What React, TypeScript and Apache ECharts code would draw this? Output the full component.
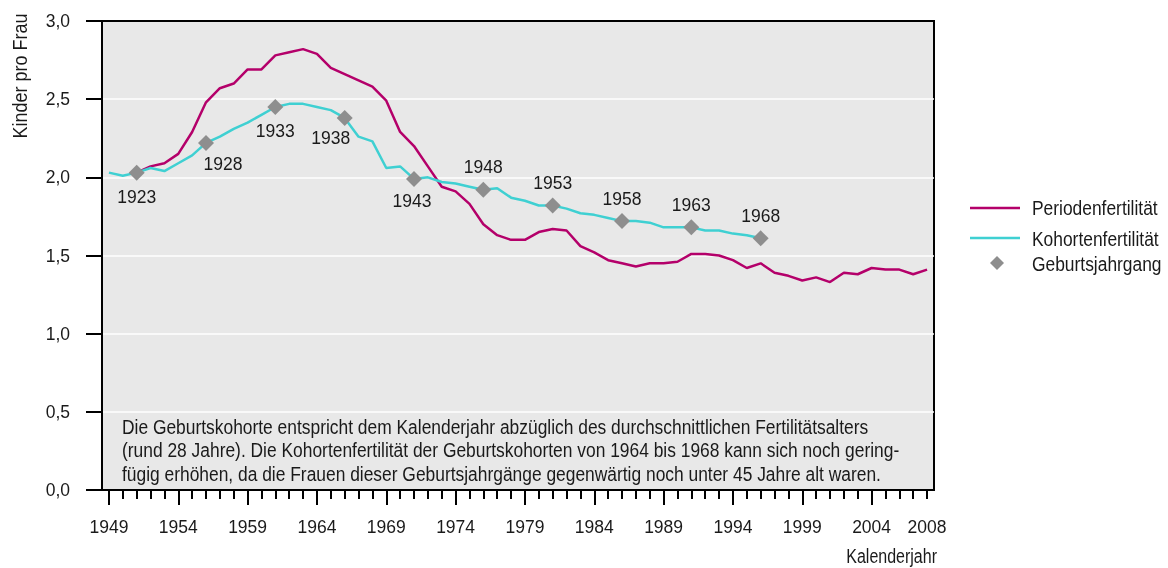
import React, { useEffect, useRef } from "react";
import * as echarts from "echarts";

const years: string[] = Array.from({ length: 60 }, (_, i) => String(1949 + i));

// Periodenfertilität 1949..2008 (null where not shown)
const periodValues: (number | null)[] = [
  null, null, 2.03, 2.07, 2.09, 2.15, 2.29, 2.48, 2.57, 2.60,
  2.69, 2.69, 2.78, 2.80, 2.82, 2.79, 2.70, 2.66, 2.62, 2.58,
  2.49, 2.29, 2.20, 2.07, 1.94, 1.91, 1.83, 1.70, 1.63, 1.60,
  1.60, 1.65, 1.67, 1.66, 1.56, 1.52, 1.47, 1.45, 1.43, 1.45,
  1.45, 1.46, 1.51, 1.51, 1.50, 1.47, 1.42, 1.45, 1.39, 1.37,
  1.34, 1.36, 1.33, 1.39, 1.38, 1.42, 1.41, 1.41, 1.38, 1.41,
];

// Kohortenfertilität plotted at calendar year (cohort + 28), 1949..1996
const cohortValues: (number | null)[] = [
  2.03, 2.01, 2.03, 2.06, 2.04, 2.09, 2.14, 2.22, 2.26, 2.31,
  2.35, 2.40, 2.45, 2.47, 2.47, 2.45, 2.43, 2.38, 2.26, 2.23,
  2.06, 2.07, 1.99, 2.00, 1.97, 1.96, 1.94, 1.92, 1.93, 1.87,
  1.85, 1.82, 1.82, 1.80, 1.77, 1.76, 1.74, 1.72, 1.72, 1.71,
  1.68, 1.68, 1.68, 1.66, 1.66, 1.64, 1.63, 1.61,
];

// Geburtsjahrgang markers
const markerCohorts: string[] = ["1923", "1928", "1933", "1938", "1943", "1948", "1953", "1958", "1963", "1968"];
const markerYears: string[] = ["1951", "1956", "1961", "1966", "1971", "1976", "1981", "1986", "1991", "1996"];
const markerValues: number[] = [2.03, 2.22, 2.45, 2.38, 1.99, 1.92, 1.82, 1.72, 1.68, 1.61];

const yTicks: number[] = [0, 0.5, 1, 1.5, 2, 2.5, 3];

const legendNames: string[] = ["Periodenfertilität", "Kohortenfertilität", "Geburtsjahrgang"];

const FONT = "'Liberation Sans', Arial, sans-serif";
const TEXT = "#1a1a1a";
const MAGENTA = "#b4006a";
const CYAN = "#3fd0d2";
const GRAY = "#8e8e8e";

const labelOffsets: number[][] = [
  [0, 24], [17, 21], [0, 24], [-14, 20], [-2, 22],
  [0, -23], [0, -22], [0, -22], [0, -22], [0, -22],
];

const noteLines = [
  "Die Geburtskohorte entspricht dem Kalenderjahr abzüglich des durchschnittlichen Fertilitätsalters",
  "(rund 28 Jahre). Die Kohortenfertilität der Geburtskohorten von 1964 bis 1968 kann sich noch gering-",
  "fügig erhöhen, da die Frauen dieser Geburtsjahrgänge gegenwärtig noch unter 45 Jahre alt waren.",
];

const narrowText = (text: string, x: number, y: number, align: string, scale: number, extra: any = {}) => ({
  type: "text", x, y, scaleX: scale, ...extra,
  style: { text, font: `20px ${FONT}`, fill: TEXT, align, verticalAlign: "middle" },
});

export default function App() {
  const ref = useRef<HTMLDivElement>(null);
  useEffect(() => {
    if (!ref.current) return;
    const chart = echarts.init(ref.current, null, { renderer: "svg" });
    const labelInterval = (i: number, v: string) => i % 5 === 0 || v === "2008";
    const majorTick = (i: number) => i % 5 === 0;
    chart.setOption({
      animation: false,
      textStyle: { fontFamily: FONT, color: TEXT },
      grid: {
        left: 102, right: 234, top: 21, bottom: 78,
        show: true, backgroundColor: "#e8e8e8", borderColor: "#000", borderWidth: 2,
      },
      xAxis: [
        {
          type: "category", data: years, boundaryGap: true, position: "bottom",
          axisLine: { lineStyle: { color: "#000", width: 2 } },
          axisTick: { show: true, interval: 0, length: 9, alignWithLabel: true, lineStyle: { color: "#000", width: 2 } },
          axisLabel: { interval: labelInterval, margin: 28, fontSize: 17.5, color: TEXT, fontFamily: FONT },
          splitLine: { show: false },
        },
        {
          type: "category", data: years, boundaryGap: true, position: "bottom",
          axisLine: { show: false },
          axisTick: { show: true, interval: majorTick, length: 15, alignWithLabel: true, lineStyle: { color: "#000", width: 2 } },
          axisLabel: { show: false },
          splitLine: { show: false },
        },
      ],
      yAxis: {
        type: "value", min: yTicks[0], max: yTicks[yTicks.length - 1], interval: 0.5,
        axisLine: { show: true, lineStyle: { color: "#000", width: 2 } },
        axisTick: { show: true, length: 16, lineStyle: { color: "#000", width: 2 } },
        axisLabel: {
          margin: 32, fontSize: 17.5, color: TEXT, fontFamily: FONT,
          formatter: (v: number) => v.toFixed(1).replace(".", ","),
        },
        splitLine: { show: true, showMinLine: false, showMaxLine: false, lineStyle: { color: "#ffffff", width: 1.5 } },
      },
      series: [
        {
          name: legendNames[0], type: "line", data: periodValues, symbol: "none",
          lineStyle: { color: MAGENTA, width: 2.5 }, itemStyle: { color: MAGENTA }, z: 2,
        },
        {
          name: legendNames[1], type: "line", data: cohortValues, symbol: "none",
          lineStyle: { color: CYAN, width: 2.5 }, itemStyle: { color: CYAN }, z: 3,
        },
        {
          name: legendNames[2], type: "scatter", symbol: "diamond", symbolSize: 16,
          itemStyle: { color: GRAY, opacity: 1 }, z: 4,
          data: markerYears.map((y, i) => ({
            value: [y, markerValues[i]],
            label: {
              show: true, formatter: markerCohorts[i], position: "inside",
              offset: labelOffsets[i], align: "center", verticalAlign: "middle",
              fontSize: 17.5, color: TEXT, fontFamily: FONT, textBorderWidth: 0,
            },
          })),
        },
      ],
      graphic: [
        narrowText("Kinder pro Frau", 20, 76, "center", 0.9, { rotation: Math.PI / 2 }),
        narrowText("Kalenderjahr", 937, 556, "right", 0.8),
        ...noteLines.map((t, i) => narrowText(t, 122, 427 + i * 23.5, "left", 0.87)),
        // legend
        { type: "line", shape: { x1: 970, y1: 208, x2: 1020, y2: 208 }, style: { stroke: MAGENTA, lineWidth: 2.5 } },
        { type: "line", shape: { x1: 970, y1: 238, x2: 1020, y2: 238 }, style: { stroke: CYAN, lineWidth: 2.5 } },
        { type: "polygon", shape: { points: [[997, 256], [1004, 263], [997, 270], [990, 263]] }, style: { fill: GRAY } },
        narrowText(legendNames[0], 1032, 208, "left", 0.87),
        narrowText(legendNames[1], 1032, 239, "left", 0.87),
        narrowText(legendNames[2], 1032, 264, "left", 0.87),
      ],
    });
    return () => chart.dispose();
  }, []);
  return <div ref={ref} style={{ position: "fixed", left: 0, top: 0, width: 1168, height: 568 }} />;
}
